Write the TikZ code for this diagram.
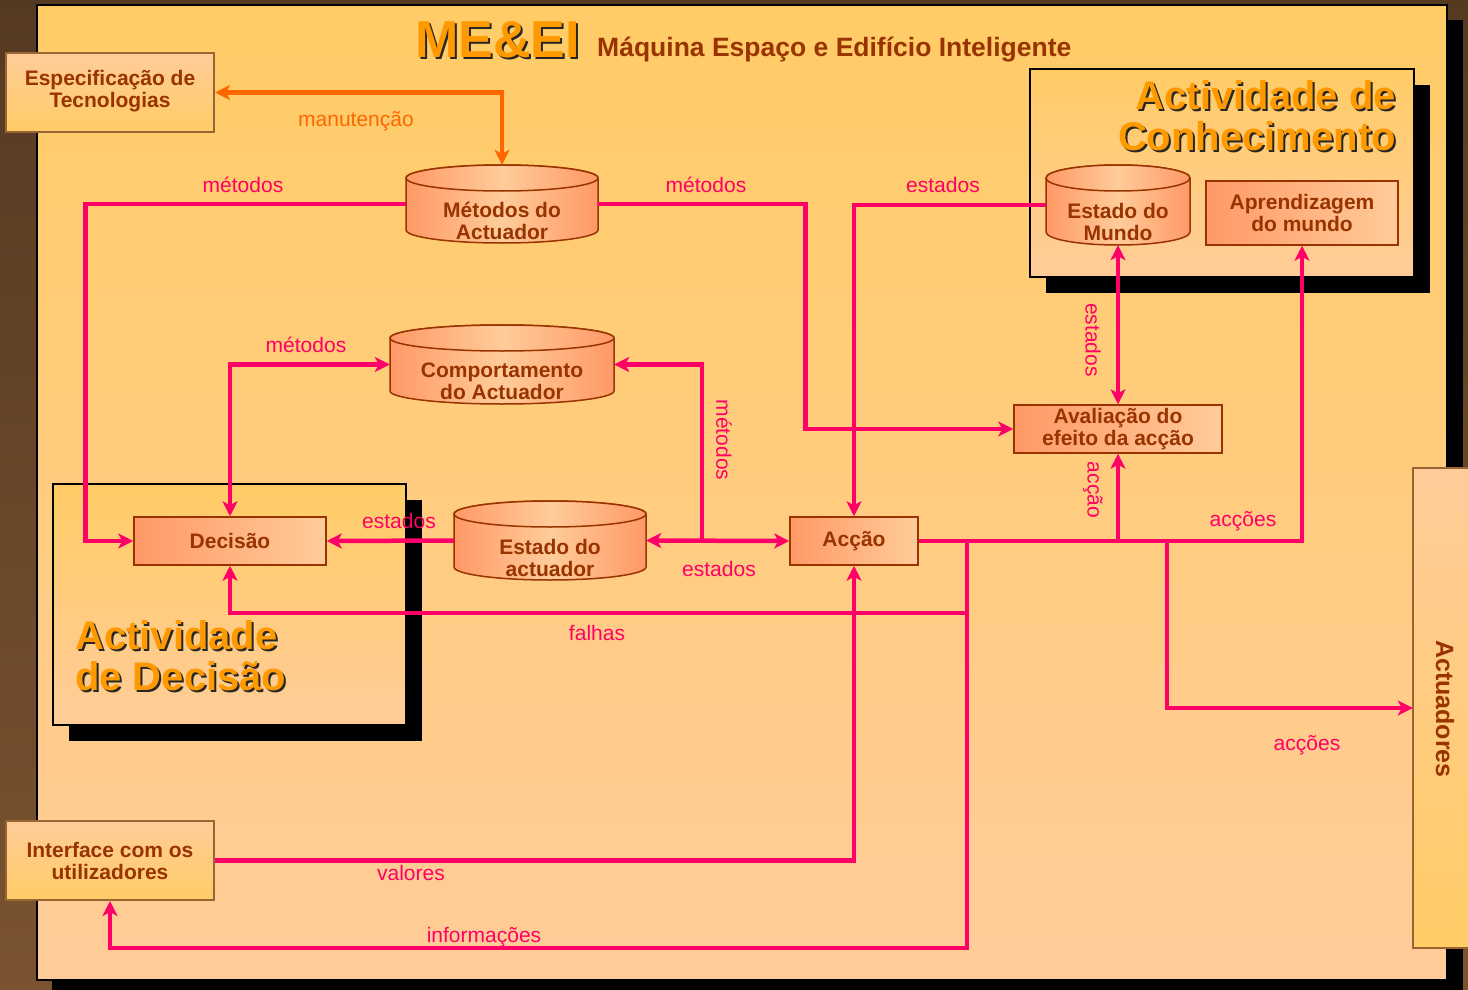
\documentclass[tikz,border=0pt]{standalone}
\usepackage{fontspec}
\setmainfont{Liberation Sans}
\usetikzlibrary{arrows.meta,shadows}

\definecolor{bgbrowntop}{HTML}{553A22}
\definecolor{bgbrownbot}{HTML}{7B5330}
\definecolor{panelyel}{HTML}{FFCC66}
\definecolor{panelpeach}{HTML}{FFCC99}
\definecolor{salmon}{HTML}{FF9966}
\definecolor{inkbrown}{HTML}{993300}
\definecolor{framebrown}{HTML}{996633}
\definecolor{flowpink}{HTML}{FF0066}
\definecolor{floworange}{HTML}{FF6600}
\definecolor{headorange}{HTML}{FF9900}

% text with a dark drop shadow, set in one box
\newcommand\shadowtext[2][2pt]{\makebox[0pt][l]{\hspace{#1}\raisebox{-#1}{\textcolor{black!85}{#2}}}#2}

\tikzset{
  boxtext/.style={font=\fontsize{21}{22}\selectfont\bfseries, text=inkbrown, align=center},
  procbox/.style={boxtext, draw=inkbrown, line width=1.5pt, left color=salmon, right color=panelpeach,
                  inner sep=0pt},
  extbox/.style={boxtext, draw=framebrown, line width=2pt, top color=panelpeach, bottom color=panelyel,
                 inner sep=0pt, minimum width=208pt, minimum height=79pt},
  drumbody/.style={draw=inkbrown, line width=1.5pt, left color=salmon, right color=salmon, middle color=panelpeach},
  anchorbox/.style={inner sep=0pt},
  group/.style={draw=black, line width=2pt, top color=panelyel, bottom color=panelpeach, inner sep=0pt,
                drop shadow={shadow xshift=16pt, shadow yshift=-16pt, opacity=1, fill=black}},
  bigtitle/.style={font=\fontsize{40}{41}\selectfont\bfseries, text=headorange, inner sep=0pt},
  flow/.style={draw=flowpink, line width=4.5pt, -{Stealth[length=15pt,width=15pt,inset=4pt]}},
  flowboth/.style={flow, {Stealth[length=15pt,width=15pt,inset=4pt]}-{Stealth[length=15pt,width=15pt,inset=4pt]}},
  flowlabel/.style={font=\fontsize{21}{21}\selectfont, text=flowpink, inner sep=0pt},
  upkeep/.style={draw=floworange, line width=4.5pt,
                 {Stealth[length=15pt,width=15pt,inset=4pt]}-{Stealth[length=15pt,width=15pt,inset=4pt]}},
}

% drum (database) symbol: #1 name, #2 x1, #3 y1, #4 x2, #5 y2, #6 text
\newcommand\drumnode[6]{%
  \pgfmathsetmacro\drx{(#4-#2)/2}%
  \pgfmathsetmacro\dcx{(#2+#4)/2}%
  \pgfmathsetmacro\dcy{(#3+#5)/2}%
  \pgfmathsetmacro\dty{#3+13}%
  \pgfmathsetmacro\dby{#5-13}%
  \pgfmathsetmacro\dw{#4-#2}%
  \pgfmathsetmacro\dh{#5-#3}%
  \path[drumbody] (#2,\dty) -- (#2,\dby)
     arc[start angle=180, end angle=360, x radius=\drx pt, y radius=13pt]
     -- (#4,\dty)
     arc[start angle=0, end angle=180, x radius=\drx pt, y radius=13pt] -- cycle;
  \path[drumbody] (\dcx,\dty) ellipse[x radius=\drx pt, y radius=13pt];
  \node[anchorbox, minimum width=\dw pt, minimum height=\dh pt] (#1) at (\dcx,\dcy) {};
  \node[boxtext] (#1-t) at (\dcx,\dcy+17) {#6};
}

\begin{document}
\begin{tikzpicture}[x=1pt, y=-1pt]
\useasboundingbox (0,0) rectangle (1468,990);
\clip (0,0) rectangle (1468,990);

% slide background and main panel
\path[top color=bgbrowntop, bottom color=bgbrownbot] (0,0) rectangle (1468,990);
\fill[black] (52,20) rectangle (1463,1000);
\path[draw=black, line width=2pt, top color=panelyel, bottom color=panelpeach] (37,5) rectangle (1447,980);

% heading
\node[anchor=base west, font=\fontsize{52}{52}\selectfont\bfseries, text=headorange, inner sep=0pt]
  (head) at (415,58) {\shadowtext{ME\&EI}};
\node[anchor=base west, font=\fontsize{26.5}{26.5}\selectfont\bfseries, text=inkbrown, inner sep=0pt]
  (subhead) at (597,57) {Máquina Espaço e Edifício Inteligente};

% activity groups
\node[group, minimum width=384pt, minimum height=208pt] (kbox) at (1222,173) {};
\node[group, minimum width=353pt, minimum height=241pt] (dbox) at (229.5,604.5) {};

\node[bigtitle, anchor=east, align=right] (ktitle) at (1396,117)
  {\shadowtext{Actividade de}\\\shadowtext{Conhecimento}};
\node[bigtitle, anchor=west, align=left] (dtitle) at (75,657)
  {\shadowtext{Actividade}\\\shadowtext{de Decisão}};

% external boxes
\node[extbox] (spec) at (110,92.5) {\raisebox{-5pt}{\begin{tabular}{@{}c@{}}Especificação de\\Tecnologias\end{tabular}}};
\node[extbox] (ui) at (110,860.5) {Interface com os\\utilizadores};
\path[draw=framebrown, line width=2pt, top color=panelpeach, bottom color=panelyel] (1413,468) rectangle (1480,948);
\node[anchorbox, minimum width=55pt, minimum height=480pt] (act) at (1440.5,708) {};
\node[boxtext, font=\fontsize{25}{25}\selectfont\bfseries, rotate=-90] (act-t) at (1445,709) {Actuadores};

% data stores
\drumnode{mact}{406}{165}{598}{243}{Métodos do\\Actuador}
\drumnode{comp}{390}{325}{614}{404}{Comportamento\\do Actuador}
\drumnode{eact}{454}{501}{646}{580}{Estado do\\actuador}
\drumnode{emun}{1046}{165}{1190}{245}{Estado do\\Mundo}

% processes
\node[procbox, minimum width=192pt, minimum height=64pt] (apr) at (1302,213) {Aprendizagem\\do mundo};
\node[procbox, minimum width=208pt, minimum height=48pt] (aval) at (1118,429) {Avaliação do\\efeito da acção};
\node[procbox, minimum width=192pt, minimum height=48pt] (dec) at (230,541) {Decisão};
\node[procbox, minimum width=128pt, minimum height=48pt] (acc) at (854,541) {Acção};

% flows
\draw[upkeep] (spec.east) -| (mact.north);
\draw[flow] (mact.west) -| ([xshift=-48pt]dec.west) -- (dec.west);
\draw[flow] (mact.east) -| ([xshift=-208pt]aval.west) -- (aval.west);
\draw[flow] (emun.west) -| (acc.north);
\draw[flowboth] (emun.south) -- (aval.north);
\draw[flowboth] (dec.north) |- (comp.west);
\draw[flow] ([xshift=56pt]eact.east) |- (comp.east);
\draw[flowboth] (eact.east) -- (acc.west);
\draw[flow] (eact.west) -- (dec.east);
\draw[flow] (ui.east) -| (acc.south);
\draw[flow] (acc.east) -| (apr.south);
\draw[flow] (acc.east -| aval.south) -- (aval.south);
\draw[flow] ([xshift=248pt]acc.east) |- (act.west);
\draw[flow] ([xshift=48pt]acc.east) -- ++(0,72) -| (dec.south);
\draw[flow] ([xshift=48pt]acc.east) -- ++(0,407) -| (ui.south);

% flow labels
\node[flowlabel, text=floworange] (l-upkeep) at (356,121) {manutenção};
\node[flowlabel] (l-m1) at (243,185) {métodos};
\node[flowlabel] (l-m2) at (706,185) {métodos};
\node[flowlabel] (l-m3) at (306,345) {métodos};
\node[flowlabel, rotate=-90] (l-m4) at (724,440) {métodos};
\node[flowlabel] (l-e1) at (943,185) {estados};
\node[flowlabel, rotate=-90] (l-e2) at (1093,340) {estados};
\node[flowlabel] (l-e3) at (399,521) {estados};
\node[flowlabel] (l-e4) at (719,569) {estados};
\node[flowlabel, rotate=-90] (l-a1) at (1093,490) {acção};
\node[flowlabel] (l-a2) at (1243,521) {acções};
\node[flowlabel] (l-a3) at (1307,745) {acções};
\node[flowlabel] (l-f) at (597,633) {falhas};
\node[flowlabel] (l-v) at (411,873) {valores};
\node[flowlabel] (l-i) at (484,937) {informações};
\end{tikzpicture}
\end{document}
